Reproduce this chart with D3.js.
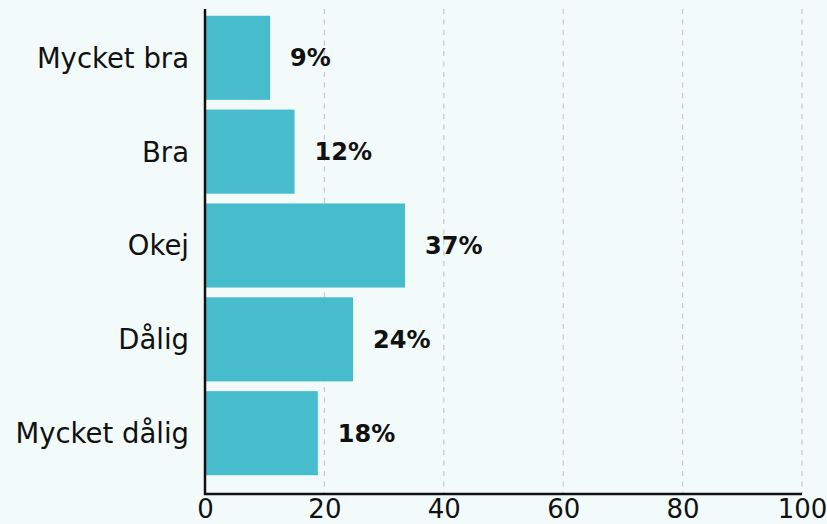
<!DOCTYPE html>
<html>
<head>
<meta charset="utf-8">
<script src="https://cdn.jsdelivr.net/npm/d3@7"></script>
<style>
  html, body { margin: 0; padding: 0; background: #f2fbfa; }
  svg { display: block; font-family: "DejaVu Sans", sans-serif; }
</style>
</head>
<body>
<svg id="chart" width="827" height="524"></svg>
<script>
// ---- Data ----
const categories = ['Mycket bra', 'Bra', 'Okej', 'Dålig', 'Mycket dålig'];
const values = [10.9, 15.0, 33.5, 24.8, 18.9];          // bar lengths as drawn
const valueLabels = ['9%', '12%', '37%', '24%', '18%'];  // printed labels
const xTicks = [0, 20, 40, 60, 80, 100];

// ---- Layout ----
const svg = d3.select('#chart');
const margin = {left: 205, right: 25, top: 9, bottom: 30};
const axisY = 494;

const x = d3.scaleLinear().domain([0, 100]).range([margin.left, 802]);
const y = d3.scaleBand().domain(categories).range([-3, axisY])
  .paddingInner(0.104).paddingOuter(0.2);

// ---- Grid ----
svg.append('g')
  .selectAll('line')
  .data(xTicks.filter(d => d > 0))
  .join('line')
  .attr('x1', d => x(d)).attr('x2', d => x(d))
  .attr('y1', margin.top).attr('y2', axisY)
  .attr('stroke', '#c9cccc')
  .attr('stroke-width', 1.3)
  .attr('stroke-dasharray', '5,5.5');

// ---- Bars ----
svg.append('g')
  .selectAll('rect')
  .data(values)
  .join('rect')
  .attr('x', x(0))
  .attr('y', (d, i) => y(categories[i]))
  .attr('width', d => x(d) - x(0))
  .attr('height', y.bandwidth())
  .attr('fill', '#47bccc');

// ---- Value labels ----
svg.append('g')
  .selectAll('text')
  .data(values)
  .join('text')
  .attr('x', d => x(d) + 20)
  .attr('y', (d, i) => y(categories[i]) + y.bandwidth() / 2)
  .attr('dy', '0.36em')
  .attr('font-size', 24)
  .attr('font-weight', 700)
  .attr('fill', '#111')
  .text((d, i) => valueLabels[i]);

// ---- Axes ----
const yAxis = svg.append('g')
  .attr('transform', `translate(${x(0)},0)`)
  .call(d3.axisLeft(y).tickSize(0).tickPadding(16))
  .attr('font-family', null);
yAxis.select('.domain').remove();
yAxis.selectAll('text').attr('font-size', 27.5).attr('fill', '#111').attr('dy', '0.36em');

const xAxis = svg.append('g')
  .attr('transform', `translate(0,${axisY})`)
  .call(d3.axisBottom(x).tickValues(xTicks).tickSize(0).tickPadding(0))
  .attr('font-family', null);
xAxis.select('.domain').remove();
xAxis.selectAll('text').attr('font-size', 26).attr('fill', '#111')
  .attr('dy', null).attr('y', 24);

// axis lines
svg.append('line')
  .attr('x1', x(0)).attr('x2', x(0))
  .attr('y1', margin.top).attr('y2', axisY + 1)
  .attr('stroke', '#111').attr('stroke-width', 2.5);
svg.append('line')
  .attr('x1', x(0) - 1).attr('x2', x(100))
  .attr('y1', axisY).attr('y2', axisY)
  .attr('stroke', '#111').attr('stroke-width', 2.5);
</script>
</body>
</html>
